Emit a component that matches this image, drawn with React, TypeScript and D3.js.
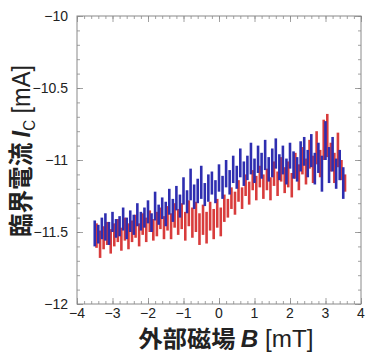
import React from "react";
import * as d3 from "d3";

// field steps (mT), one vertical segment per step
const fieldB = d3.range(71).map(i => +(-3.5 + 0.1 * i).toFixed(2));

const blueHi = [
  -11.42, -11.45, -11.40, -11.37, -11.43, -11.36, -11.41, -11.39, -11.33, -11.40,
  -11.35, -11.38, -11.30, -11.36, -11.33, -11.28, -11.37, -11.22, -11.31, -11.26,
  -11.29, -11.20, -11.27, -11.18, -11.24, -11.12, -11.21, -11.06, -11.17, -11.13,
  -11.04, -11.16, -11.10, -11.08, -11.14, -11.03, -11.11, -11.00, -11.07, -10.97,
  -11.04, -10.92, -11.01, -10.97, -10.88, -10.99, -10.90, -10.95, -10.86, -10.98,
  -10.92, -10.85, -10.96, -10.90, -10.99, -10.88, -10.94, -10.98, -10.87, -10.84,
  -10.93, -10.82, -10.95, -10.88, -10.97, -10.73, -10.91, -10.84, -10.99, -10.93,
  -11.05,
];
const blueLo = [
  -11.60, -11.58, -11.55, -11.56, -11.59, -11.50, -11.54, -11.53, -11.49, -11.55,
  -11.50, -11.52, -11.46, -11.49, -11.47, -11.44, -11.50, -11.42, -11.45, -11.41,
  -11.46, -11.38, -11.43, -11.35, -11.40, -11.31, -11.37, -11.28, -11.34, -11.30,
  -11.27, -11.32, -11.29, -11.24, -11.30, -11.22, -11.27, -11.19, -11.24, -11.16,
  -11.20, -11.12, -11.18, -11.14, -11.10, -11.16, -11.09, -11.13, -11.07, -11.15,
  -11.12, -11.06, -11.14, -11.10, -11.17, -11.06, -11.13, -11.15, -11.08, -11.04,
  -11.12, -11.05, -11.17, -11.09, -11.22, -11.00, -11.16, -11.08, -11.20, -11.14,
  -11.27,
];
const redHi = [
  -11.44, -11.49, -11.46, -11.43, -11.48, -11.44, -11.41, -11.47, -11.40, -11.44,
  -11.42, -11.38, -11.44, -11.37, -11.40, -11.35, -11.41, -11.36, -11.33, -11.39,
  -11.32, -11.37, -11.30, -11.34, -11.30, -11.36, -11.28, -11.33, -11.29, -11.37,
  -11.31, -11.36, -11.29, -11.34, -11.27, -11.33, -11.24, -11.27, -11.19, -11.22,
  -11.14, -11.19, -11.10, -11.15, -11.07, -11.11, -11.04, -11.10, -11.06, -11.12,
  -11.01, -11.08, -10.98, -11.05, -11.01, -11.09, -10.95, -11.03, -10.91, -10.99,
  -10.86, -10.97, -10.80, -10.93, -10.72, -10.68, -10.88, -10.95, -10.81, -11.00,
  -11.10,
];
const redLo = [
  -11.61, -11.68, -11.62, -11.59, -11.65, -11.60, -11.57, -11.63, -11.56, -11.62,
  -11.57, -11.54, -11.60, -11.52, -11.57, -11.50, -11.56, -11.53, -11.48, -11.55,
  -11.49, -11.55, -11.47, -11.52, -11.48, -11.56, -11.46, -11.54, -11.50, -11.59,
  -11.52, -11.58, -11.49, -11.55, -11.47, -11.53, -11.43, -11.40, -11.34, -11.38,
  -11.29, -11.34, -11.25, -11.31, -11.21, -11.28, -11.19, -11.27, -11.21, -11.28,
  -11.18, -11.25, -11.15, -11.23, -11.19, -11.26, -11.13, -11.21, -11.10, -11.17,
  -11.06, -11.16, -11.03, -11.12, -11.00, -10.98, -11.08, -11.16, -11.05, -11.14,
  -11.22,
];

const xTicks = [-4, -3, -2, -1, 0, 1, 2, 3, 4];
const xMinor = d3.range(41).map(i => +(-4 + 0.2 * i).toFixed(2));
const yTicks = [-12, -11.5, -11, -10.5, -10];
const yMinor = d3.range(21).map(i => +(-12 + 0.1 * i).toFixed(2));

const W = 369, H = 353;
const frame = { left: 77, right: 361, top: 16, bottom: 304 };
const numFont = "'Liberation Sans', Arial, sans-serif";
const cjkFont = "'Noto Sans CJK JP', sans-serif";
const minus = (v: number) => String(v).replace("-", "\u2212");

export default function App() {
  const ref = React.useRef<SVGSVGElement>(null);

  React.useEffect(() => {
    document.body.style.margin = "0";
    const svg = d3.select(ref.current);
    svg.selectAll("*").remove();

    const x = d3.scaleLinear().domain([-4, 4]).range([frame.left, frame.right]);
    const y = d3.scaleLinear().domain([-12, -10]).range([frame.bottom, frame.top]);

    // inward ticks on all four sides
    const addAxis = (axis: any, tr: string, vals: number[], len: number) => {
      const g = svg.append("g").attr("transform", tr)
        .call(axis.tickValues(vals).tickSize(-len));
      g.select(".domain").remove();
      g.selectAll(".tick text").remove();
      g.selectAll(".tick line").attr("stroke", "#8a8a8a").attr("stroke-width", 0.8);
    };
    addAxis(d3.axisBottom(x), `translate(0,${frame.bottom})`, xMinor, 3);
    addAxis(d3.axisBottom(x), `translate(0,${frame.bottom})`, xTicks, 6);
    addAxis(d3.axisTop(x), `translate(0,${frame.top})`, xMinor, 3);
    addAxis(d3.axisTop(x), `translate(0,${frame.top})`, xTicks, 6);
    addAxis(d3.axisLeft(y), `translate(${frame.left},0)`, yMinor, 3);
    addAxis(d3.axisLeft(y), `translate(${frame.left},0)`, yTicks, 6);
    addAxis(d3.axisRight(y), `translate(${frame.right},0)`, yMinor, 3);
    addAxis(d3.axisRight(y), `translate(${frame.right},0)`, yTicks, 6);

    svg.append("rect")
      .attr("x", frame.left).attr("y", frame.top)
      .attr("width", frame.right - frame.left).attr("height", frame.bottom - frame.top)
      .attr("fill", "none").attr("stroke", "#8a8a8a").attr("stroke-width", 1);

    // tick labels
    svg.append("g").selectAll("text").data(xTicks).enter().append("text")
      .attr("x", d => x(d)).attr("y", 318)
      .attr("text-anchor", "middle")
      .style("font-family", numFont).style("font-size", "14px").attr("fill", "#222")
      .text(d => minus(d));
    svg.append("g").selectAll("text").data(yTicks).enter().append("text")
      .attr("x", 68).attr("y", d => y(d) + 5)
      .attr("text-anchor", "end")
      .style("font-family", numFont).style("font-size", "14px").attr("fill", "#222")
      .text(d => minus(d));

    // data segments: red first, blue on top
    const plot = svg.append("g");
    plot.selectAll("line.red").data(fieldB).enter().append("line")
      .attr("class", "red")
      .attr("x1", d => x(d + 0.05)).attr("x2", d => x(d + 0.05))
      .attr("y1", (_, i) => y(redHi[i])).attr("y2", (_, i) => y(redLo[i]))
      .attr("stroke", "#d83c3c").attr("stroke-width", 2.6);
    plot.selectAll("line.blue").data(fieldB).enter().append("line")
      .attr("class", "blue")
      .attr("x1", d => x(d)).attr("x2", d => x(d))
      .attr("y1", (_, i) => y(blueHi[i])).attr("y2", (_, i) => y(blueLo[i]))
      .attr("stroke", "#2e2eb0").attr("stroke-width", 2.6);

    // axis titles
    const xt = svg.append("text")
      .attr("x", 226).attr("y", 347).attr("text-anchor", "middle")
      .attr("textLength", 175).attr("lengthAdjust", "spacingAndGlyphs")
      .style("font-family", cjkFont).style("font-size", "23px").attr("fill", "#222");
    xt.append("tspan").style("font-weight", "bold").text("外部磁場 ");
    xt.append("tspan").style("font-family", numFont).style("font-style", "italic").style("font-weight", "bold").text("B");
    xt.append("tspan").style("font-family", numFont).text(" [mT]");

    const yt = svg.append("text")
      .attr("transform", `translate(30,151) rotate(-90)`).attr("text-anchor", "middle")
      .attr("textLength", 172).attr("lengthAdjust", "spacingAndGlyphs")
      .style("font-family", cjkFont).style("font-size", "25px").attr("fill", "#222");
    yt.append("tspan").style("font-weight", "bold").text("臨界電流 ");
    yt.append("tspan").style("font-family", numFont).style("font-style", "italic").style("font-weight", "bold").text("I");
    yt.append("tspan").style("font-family", numFont).style("font-size", "16px").attr("dy", 5).text("C");
    yt.append("tspan").style("font-family", numFont).attr("dy", -5).text(" [mA]");
  }, []);

  return <svg ref={ref} width={W} height={H} style={{ display: "block", background: "#fff" }} />;
}
